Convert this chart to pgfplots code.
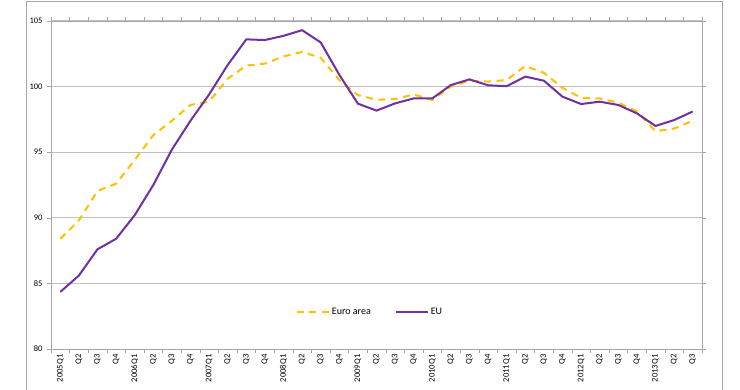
\documentclass[border=0pt]{standalone}
\usepackage{fontspec}
\setmainfont{Carlito}
\usepackage{pgfplots}
\pgfplotsset{compat=1.18}
\usepackage{pgfplotstable}
\definecolor{euro}{HTML}{FFC000}
\definecolor{eu}{HTML}{7030A0}
\definecolor{gridc}{HTML}{BFBFBF}
\definecolor{framec}{HTML}{A6A6A6}
\pgfplotstableread{
i euro eu
0 88.4 84.35
1 89.8 85.6
2 92.05 87.6
3 92.6 88.4
4 94.4 90.2
5 96.3 92.5
6 97.4 95.2
7 98.6 97.4
8 98.85 99.4
9 100.6 101.65
10 101.6 103.6
11 101.75 103.55
12 102.3 103.87
13 102.65 104.3
14 102.2 103.37
15 100.5 100.9
16 99.35 98.7
17 99.0 98.17
18 99.05 98.72
19 99.4 99.1
20 98.98 99.1
21 100.0 100.12
22 100.45 100.55
23 100.38 100.1
24 100.5 100.03
25 101.57 100.76
26 101.05 100.45
27 99.9 99.23
28 99.15 98.67
29 99.1 98.85
30 98.78 98.6
31 98.1 97.96
32 96.6 97.0
33 96.8 97.45
34 97.4 98.1
}\data
\begin{document}
\begin{tikzpicture}
\path[use as bounding box] (0pt,0pt) rectangle (740pt,389pt);
\draw[color=framec, line width=1pt] (26pt,-5pt) -- (26pt,387.5pt) -- (722pt,387.5pt) -- (722pt,-5pt);
\begin{axis}[
  at={(51pt,40pt)}, anchor=south west,
  scale only axis, width=651pt, height=328pt,
  xmin=-0.5, xmax=34.5, ymin=80, ymax=105,
  ytick={80,85,...,105},
  xtick={0,...,34},
  xticklabels={2005Q1,Q2,Q3,Q4,2006Q1,Q2,Q3,Q4,2007Q1,Q2,Q3,Q4,2008Q1,Q2,Q3,Q4,2009Q1,Q2,Q3,Q4,2010Q1,Q2,Q3,Q4,2011Q1,Q2,Q3,Q4,2012Q1,Q2,Q3,Q4,2013Q1,Q2,Q3},
  minor xtick={-0.5,0.5,...,34.5},
  xtick style={draw=none},
  minor tick length=4pt,
  major tick length=4pt,
  tick align=outside,
  every tick/.style={color=framec},
  minor x tick style={color=framec, draw=framec},
  ymajorgrids, grid style={color=gridc, line width=1pt},
  axis line style={color=framec, line width=0.8pt},
  /pgf/number format/assume math mode=true,
  yticklabel style={font=\fontsize{8.5}{9}\selectfont, xshift=-1pt},
  xticklabel style={rotate=90, anchor=east, font=\fontsize{8.6}{9}\selectfont},
  xticklabel shift=-2pt,
  legend columns=2,
  legend style={at={(0.49,0.113)}, anchor=center, draw=none, fill=none,
    font=\fontsize{10}{11}\selectfont, /tikz/every even column/.append style={column sep=22pt}},
  legend image code/.code={\draw[#1] (0pt,0pt) -- (32pt,0pt);},
  clip=false,
]
\addplot[color=euro, line width=2pt, dash pattern=on 7pt off 5.5pt] table[x=i, y=euro] {\data};
\addlegendentry{Euro area}
\addplot[color=eu, line width=2pt] table[x=i, y=eu] {\data};
\addlegendentry{EU}
\end{axis}
\end{tikzpicture}
\end{document}
